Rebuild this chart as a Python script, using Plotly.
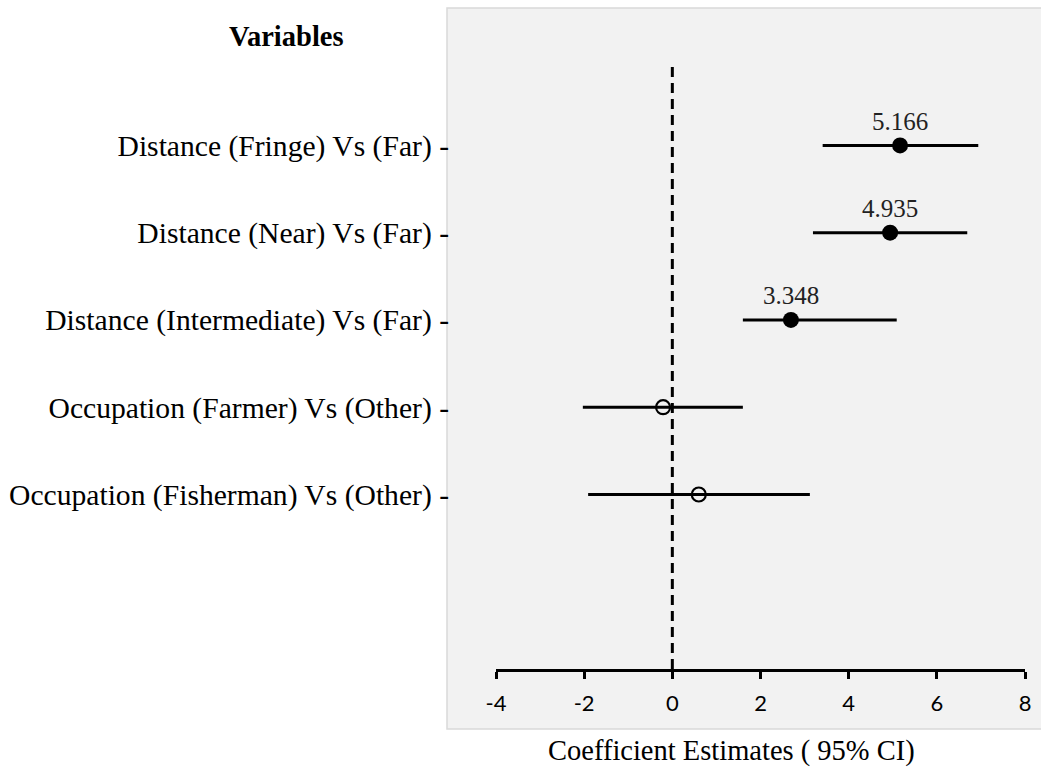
import plotly.graph_objects as go

variables = [
    "Distance (Fringe) Vs (Far)",
    "Distance (Near) Vs (Far)",
    "Distance (Intermediate) Vs (Far)",
    "Occupation (Farmer) Vs (Other)",
    "Occupation (Fisherman) Vs (Other)",
]
row_pos = [1, 2, 3, 4, 5]
estimates = [5.166, 4.94, 2.69, -0.21, 0.60]
ci_low = [3.41, 3.19, 1.60, -2.03, -1.91]
ci_high = [6.94, 6.69, 5.09, 1.60, 3.12]
significant = [True, True, True, False, False]
est_labels = ["5.166", "4.935", "3.348", "", ""]
x_ticks = [-4, -2, 0, 2, 4, 6, 8]
x_ticktext = ["-4", "-2", "0", "2", "4", "6", "8"]

SERIF = "Liberation Serif, Times New Roman, serif"
SANS = "Lato, Open Sans, sans-serif"
W, H = 1041, 772
L, R, T, B = 496, 16, 8, 103


def px_to_paper_x(px):
    return (px - L) / (W - L - R)


def px_to_paper_y(py):
    return (H - B - py) / (H - T - B)


fig = go.Figure()

# reference line at zero
fig.add_trace(
    go.Scatter(
        x=[0, 0],
        y=[0.1, 7],
        mode="lines",
        line={"color": "black", "width": 3, "dash": "10px,6px"},
        hoverinfo="skip",
        showlegend=False,
    )
)

for sig in (True, False):
    idx = [i for i, s in enumerate(significant) if s == sig]
    est = [estimates[i] for i in idx]
    fig.add_trace(
        go.Scatter(
            x=est,
            y=[row_pos[i] for i in idx],
            mode="markers",
            marker={
                "symbol": "circle" if sig else "circle-open",
                "size": 16 if sig else 14,
                "color": "black",
                "line": {"width": 0 if sig else 2.2, "color": "black"},
            },
            error_x={
                "type": "data",
                "symmetric": False,
                "array": [ci_high[i] - estimates[i] for i in idx],
                "arrayminus": [estimates[i] - ci_low[i] for i in idx],
                "thickness": 3,
                "width": 0,
                "color": "black",
            },
            showlegend=False,
        )
    )

for x, y, txt in zip(estimates, row_pos, est_labels):
    if txt:
        fig.add_annotation(
            x=x, y=y, text=txt, showarrow=False, yshift=24,
            font={"family": SERIF, "size": 25, "color": "#222"},
        )

# grey panel behind the plot
fig.add_shape(
    type="rect", xref="paper", yref="paper", layer="below",
    x0=px_to_paper_x(447), x1=px_to_paper_x(W + 10),
    y0=px_to_paper_y(729), y1=px_to_paper_y(8),
    fillcolor="#f2f2f2", line={"color": "#d9d9d9", "width": 1.5},
)

fig.add_annotation(
    xref="paper", yref="paper", x=px_to_paper_x(286), y=px_to_paper_y(37),
    text="<b>Variables</b>", showarrow=False, xanchor="center", yanchor="middle",
    font={"family": SERIF, "size": 28.5, "color": "black"},
)
fig.add_annotation(
    xref="paper", yref="paper", x=px_to_paper_x(731), y=px_to_paper_y(751),
    text="Coefficient Estimates ( 95% CI)", showarrow=False,
    xanchor="center", yanchor="middle",
    font={"family": SERIF, "size": 28.5, "color": "black"},
)

fig.update_xaxes(
    range=[-4, 8],
    tickvals=x_ticks,
    ticktext=x_ticktext,
    ticks="outside",
    ticklen=7,
    tickwidth=2.5,
    tickcolor="black",
    ticklabelstandoff=6,
    showline=True,
    linecolor="black",
    linewidth=3,
    showgrid=False,
    zeroline=False,
    tickfont={"family": SANS, "size": 22, "color": "black"},
)
fig.update_yaxes(
    range=[7, -0.575],
    tickvals=row_pos,
    ticktext=[v + " -" for v in variables],
    ticks="",
    ticklabelstandoff=46,
    showline=False,
    showgrid=False,
    zeroline=False,
    tickfont={"family": SERIF, "size": 29.6, "color": "black"},
)
fig.update_layout(
    width=W,
    height=H,
    margin={"l": L, "r": R, "t": T, "b": B, "autoexpand": False},
    paper_bgcolor="white",
    plot_bgcolor="rgba(0,0,0,0)",
    showlegend=False,
)

fig.write_html(
    "out.html",
    config={"displayModeBar": False},
    post_script="document.body.style.margin = '0';",
)
